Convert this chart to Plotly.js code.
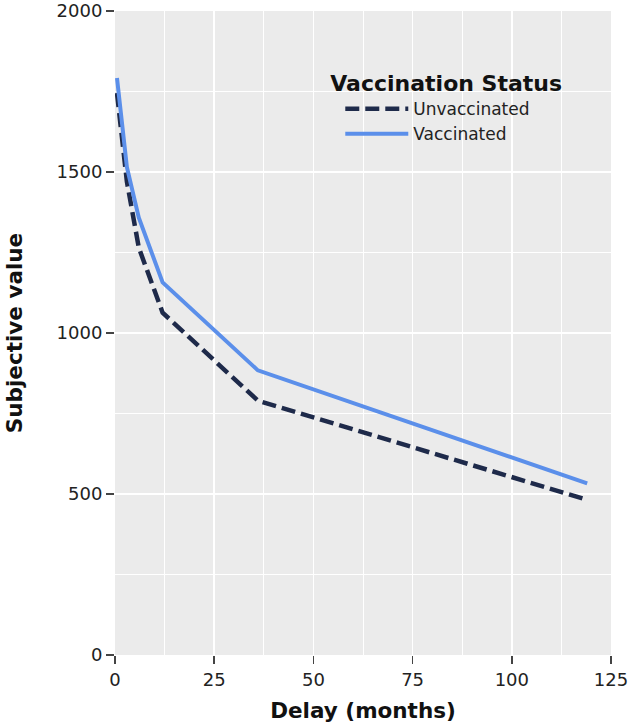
<!DOCTYPE html>
<html>
<head>
<meta charset="utf-8">
<script src="https://cdn.plot.ly/plotly-3.0.1.min.js"></script>
<style>html,body{margin:0;padding:0;background:#fff;}#chart{width:629px;height:725px;}</style>
</head>
<body>
<div id="chart"></div>
<script>
// Data
const delayMonths = [0.5, 1, 3, 6, 12, 36, 119];
const unvaccinatedValues = [1745, 1690, 1470, 1265, 1063, 790, 482];
const vaccinatedValues = [1792, 1735, 1515, 1358, 1157, 884, 533];
const seriesNames = ["Unvaccinated", "Vaccinated"];
const xTicks = [0, 25, 50, 75, 100, 125];
const yTicks = [0, 500, 1000, 1500, 2000];

const FONT = "DejaVu Sans, Verdana, sans-serif";

const traces = [
  {
    x: delayMonths, y: unvaccinatedValues, name: seriesNames[0],
    type: "scatter", mode: "lines",
    line: {color: "#1e2a4a", width: 4.5, dash: "14px,6px"}
  },
  {
    x: delayMonths, y: vaccinatedValues, name: seriesNames[1],
    type: "scatter", mode: "lines",
    line: {color: "#5b8fea", width: 4}
  }
];

const layout = {
  width: 629, height: 725,
  margin: {l: 115, r: 18, t: 11, b: 70},
  paper_bgcolor: "#ffffff",
  plot_bgcolor: "#ebebeb",
  font: {family: FONT, size: 18, color: "#222"},
  showlegend: true,
  legend: {
    x: 0.43, y: 0.92, xanchor: "left", yanchor: "top",
    bgcolor: "rgba(0,0,0,0)",
    title: {text: "<b>Vaccination Status</b>", side: "top", font: {family: FONT, size: 22, color: "#111"}},
    font: {family: FONT, size: 17, color: "#222"},
    tracegroupgap: 0,
    itemwidth: 63,
    indentation: 12
  },
  xaxis: {
    range: [0, 125], tickvals: xTicks, ticktext: xTicks.map(String),
    showgrid: true, gridcolor: "#ffffff", gridwidth: 1.5,
    minor: {dtick: 12.5, showgrid: true, gridcolor: "#ffffff", gridwidth: 1},
    zeroline: false, showline: false,
    ticks: "outside", ticklen: 8, tickwidth: 1.5, tickcolor: "#444",
    tickfont: {family: FONT, size: 18, color: "#222"},
    title: {text: "<b>Delay (months)</b>", font: {family: FONT, size: 21.5, color: "#111"}, standoff: 14}
  },
  yaxis: {
    range: [0, 2000], tickvals: yTicks, ticktext: yTicks.map(String),
    showgrid: true, gridcolor: "#ffffff", gridwidth: 1.5,
    minor: {dtick: 250, showgrid: true, gridcolor: "#ffffff", gridwidth: 1},
    zeroline: false, showline: false,
    ticks: "outside", ticklen: 8, tickwidth: 1.5, tickcolor: "#444",
    ticklabeloverflow: "allow",
    tickfont: {family: FONT, size: 18, color: "#222"},
    title: {text: "<b>Subjective value</b>", font: {family: FONT, size: 21.5, color: "#111"}, standoff: 28}
  }
};

Plotly.newPlot("chart", traces, layout, {displayModeBar: false, staticPlot: true});
</script>
</body>
</html>
